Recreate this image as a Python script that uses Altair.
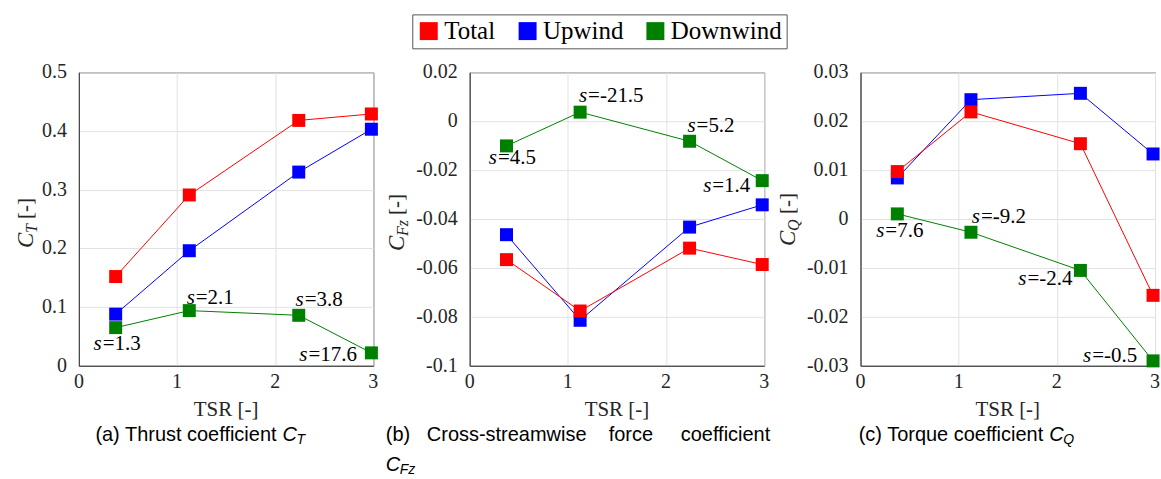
import altair as alt
import pandas as pd

# ---------------- data ----------------
TSR = [0.375, 1.125, 2.24, 2.98]
SERIES = ["Total", "Upwind", "Downwind"]
COLORS = ["#ff0000", "#0000ff", "#008000"]

CT_TOTAL = [0.152, 0.291, 0.418, 0.429]
CT_UP = [0.088, 0.196, 0.330, 0.403]
CT_DOWN = [0.065, 0.094, 0.086, 0.022]
CT_S = ["1.3", "2.1", "3.8", "17.6"]

CFZ_TOTAL = [-0.0566, -0.0776, -0.0519, -0.0586]
CFZ_UP = [-0.0464, -0.0814, -0.0433, -0.0342]
CFZ_DOWN = [-0.0101, 0.0037, -0.0082, -0.0243]
CFZ_S = ["4.5", "-21.5", "5.2", "1.4"]

CQ_TOTAL = [0.0097, 0.0219, 0.0154, -0.0156]
CQ_UP = [0.0084, 0.0244, 0.0257, 0.0133]
CQ_DOWN = [0.00105, -0.0027, -0.0105, -0.0290]
CQ_S = ["7.6", "-9.2", "-2.4", "-0.5"]

X_TICKS = [0, 1, 2, 3]
CT_TICKS = [0, 0.1, 0.2, 0.3, 0.4, 0.5]
CFZ_TICKS = [-0.1, -0.08, -0.06, -0.04, -0.02, 0, 0.02]
CQ_TICKS = [-0.03, -0.02, -0.01, 0, 0.01, 0.02, 0.03]

# ---------------- style / layout ----------------
W, H = 295, 294
SERIF = "Liberation Serif"
SANS = "Liberation Sans"
INK = "#262626"
DUMMY = pd.DataFrame({"k": [0]})

LEGEND = alt.Legend(
    title=None, orient="none", legendX=334, legendY=-58, direction="horizontal",
    symbolType="square", symbolSize=324, symbolStrokeWidth=0, symbolOpacity=1,
    labelFont=SERIF, labelFontSize=25, labelColor="black", labelOffset=3,
    strokeColor="#555555", fillColor="white", padding=4, columnPadding=19,
)


def long_df(total, up, down, s):
    rows = []
    for name, vals in (("Upwind", up), ("Total", total), ("Downwind", down)):
        for i, (x, v) in enumerate(zip(TSR, vals)):
            rows.append({"TSR": x, "value": v, "series": name, "idx": i,
                         "label": "=" + s[i]})
    return pd.DataFrame(rows)


def txt(text, x, y, **kw):
    return alt.Chart(DUMMY).mark_text(text=text, **kw).encode(
        x=alt.value(x), y=alt.value(y))


def panel(total, up, down, s, domain, ticks, sub, title_x, title_bottom,
          label_offsets, caption, anchor=False):
    df = long_df(total, up, down, s)
    xs = alt.Scale(domain=[0, 3], nice=False)
    ys = alt.Scale(domain=domain, nice=False, zero=False)
    x = alt.X("TSR:Q", scale=xs,
              axis=alt.Axis(values=X_TICKS, title=None, labels=False,
                            ticks=False, tickSize=0))
    y = alt.Y("value:Q", scale=ys,
              axis=alt.Axis(values=ticks, title=None, labels=False,
                            ticks=False, tickSize=0))
    color = alt.Color("series:N", scale=alt.Scale(domain=SERIES, range=COLORS),
                      legend=LEGEND)
    base = alt.Chart(df)
    lines = base.mark_line(strokeWidth=1).encode(x=x, y=y, color=color)
    pts = base.mark_square(size=169, opacity=1, filled=True).encode(
        x=x, y=y, color=color)
    layers = [lines, pts]

    # tick labels drawn through the scales
    ytick_df = pd.DataFrame({"value": ticks, "lab": [f"{v:g}" for v in ticks]})
    layers.append(alt.Chart(ytick_df).mark_text(
        font=SERIF, fontSize=20, align="right", baseline="middle", dx=-12,
        color=INK).encode(x=alt.value(0), y=y, text="lab:N"))
    xtick_df = pd.DataFrame({"TSR": X_TICKS, "lab": [f"{v:g}" for v in X_TICKS]})
    layers.append(alt.Chart(xtick_df).mark_text(
        font=SERIF, fontSize=20, align="center", baseline="middle", dy=16,
        color=INK).encode(x=x, y=alt.value(H), text="lab:N"))
    layers.append(txt("TSR [-]", W / 2, H + 44, align="center", baseline="middle",
                      font=SERIF, fontSize=21, color=INK))

    down_df = base.transform_filter(alt.datum.series == "Downwind")
    for i, (dx, dy) in enumerate(label_offsets):
        sel = down_df.transform_filter(alt.datum.idx == i)
        layers.append(sel.mark_text(text="s", font=SERIF, fontStyle="italic",
                                    fontSize=21, align="right", baseline="middle",
                                    dx=dx, dy=dy, color="black").encode(x=x, y=y))
        layers.append(sel.mark_text(font=SERIF, fontSize=21, align="left",
                                    baseline="middle", dx=dx + 1, dy=dy,
                                    color="black").encode(x=x, y=y, text="label:N"))
    # rotated y-axis title: C_sub [-]
    sub_len = {"T": 9, "Fz": 16, "Q": 12}[sub]
    layers.append(txt("C", title_x, title_bottom, angle=270, align="left",
                      baseline="middle", font=SERIF, fontStyle="italic",
                      fontSize=23, color=INK))
    layers.append(txt(sub, title_x + 6, title_bottom - 15, angle=270, align="left",
                      baseline="middle", font=SERIF, fontStyle="italic",
                      fontSize=16, color=INK))
    layers.append(txt("[-]", title_x, title_bottom - 15 - sub_len - 5, angle=270,
                      align="left", baseline="middle", font=SERIF, fontSize=21,
                      color=INK))
    # caption
    for kind, text, cx, cy in caption:
        if kind == "mainR":
            layers.append(txt(text, cx, cy, align="right", baseline="middle",
                              font=SANS, fontSize=20, color="black"))
        elif kind == "mainL":
            layers.append(txt(text, cx, cy, align="left", baseline="middle",
                              font=SANS, fontSize=20, color="black"))
        elif kind == "C":
            layers.append(txt("C", cx, cy, align="left", baseline="middle",
                              font=SANS, fontStyle="italic", fontSize=20,
                              color="black"))
            layers.append(txt(text, cx + 14, cy + 5, align="left",
                              baseline="middle", font=SANS, fontStyle="italic",
                              fontSize=14, color="black"))
    if anchor:
        layers.append(alt.Chart(DUMMY).mark_rule(strokeOpacity=0, opacity=0).encode(
            x=alt.value(-77.7), x2=alt.value(-77.2), y=alt.value(-71),
            y2=alt.value(-70.5)))
    return alt.layer(*layers).properties(width=W, height=H)


p1 = panel(CT_TOTAL, CT_UP, CT_DOWN, CT_S, [0, 0.5], CT_TICKS, "T", -53, 176,
           [(-14, 16), (5.5, -13), (5, -15), (-64, 2)],
           [("mainR", "(a)  Thrust coefficient", 198, 363), ("C", "T", 204, 363)],
           anchor=True)
p2 = panel(CFZ_TOTAL, CFZ_UP, CFZ_DOWN, CFZ_S, [-0.1, 0.02], CFZ_TICKS, "Fz", -73, 179,
           [(-9.5, 12.5), (7, -16), (6, -15), (-51, 5.5)],
           [("mainL", "(b)\u00a0\u00a0\u00a0Cross-streamwise\u00a0\u00a0\u00a0\u00a0force"
             "\u00a0\u00a0\u00a0\u00a0\u00a0coefficient", -84, 363),
            ("C", "Fz", -84, 393)])
p3 = panel(CQ_TOTAL, CQ_UP, CQ_DOWN, CQ_S, [-0.03, 0.03], CQ_TICKS, "Q", -73, 174,
           [(-13, 17), (9, -15.5), (-54, 9), (-62, -5)],
           [("mainR", "(c)  Torque coefficient", 183, 363), ("C", "Q", 189, 363)])

chart = alt.hconcat(p1, p2, p3, spacing=96.5, bounds="flush").resolve_scale(
    color="shared").resolve_legend(color="shared").properties(
    padding={"left": 0, "top": 0, "right": 0, "bottom": 0}, background="white"
).configure_view(stroke="#333333", strokeWidth=1).configure_axis(
    gridColor="#e2e2e2", gridWidth=1, domainColor="#333333", domainWidth=1)

chart.save("out.html", embed_options={"renderer": "svg", "actions": False})
